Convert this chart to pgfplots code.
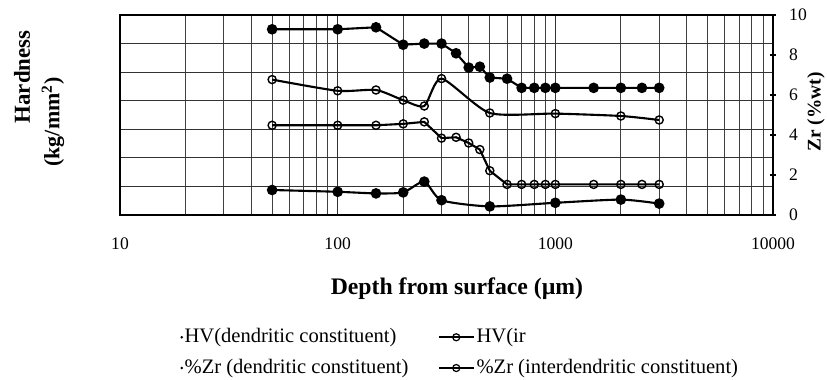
\documentclass[border=0pt]{standalone}
\usepackage{fontspec}
\setmainfont{Liberation Serif}
\usepackage{pgfplots}
\pgfplotsset{compat=1.18}
\begin{document}
\begin{tikzpicture}
% ---------- left axis: hardness ----------
\begin{axis}[
  at={(0,0)}, anchor=south west, scale only axis,
  width=13.06cm, height=4cm,
  xmode=log, xmin=10, xmax=10000,
  clip=false,
  /pgf/number format/assume math mode=true,
  tick label style={font=\fontsize{10}{12}\selectfont},
  ymin=0, ymax=700, ytick={0,100,...,700}, yticklabels={},
  xtick={10,100,1000,10000}, xticklabels={10,100,1000,10000},
  xticklabel style={yshift=-9.5pt},
  major tick length=0pt, minor tick length=0pt,
  xmajorgrids, xminorgrids, ymajorgrids,
  major grid style={black!80, line width=0.65pt},
  minor grid style={black!75, line width=0.55pt},
  axis line style={black, line width=0.8pt},
]
% HV (dendritic constituent)
\addplot[black, line width=1.2pt, mark=*, mark size=2.4pt] coordinates {
 (50,650) (100,650) (150,657) (200,596) (250,600) (300,600) (350,566)
 (400,516) (450,519) (500,481) (600,477) (700,445) (800,445) (900,445)
 (1000,445) (1500,445) (2000,445) (2500,445) (3000,445)};
% HV (interdendritic constituent)
\addplot[black, line width=1.2pt, mark=o, mark size=2.3pt, mark options={line width=0.8pt}] coordinates {
 (50,314) (100,314) (150,314) (200,319) (250,326) (300,269) (350,272)
 (400,252) (450,229) (500,155) (600,107) (700,107) (800,107) (900,107)
 (1000,107) (1500,107) (2000,107) (2500,107) (3000,107)};
\node[rotate=90, font=\bfseries\fontsize{13}{15}\selectfont] at (rel axis cs:-0.150,0.69) {Hardness};
\node[rotate=90, font=\bfseries\fontsize{12.5}{15}\selectfont] at (rel axis cs:-0.1026,0.465) {(kg/mm\textsuperscript{2})};
\node[font=\bfseries\fontsize{13.5}{16}\selectfont] at (rel axis cs:0.516,-0.37) {Depth from surface (µm)};
\end{axis}
% ---------- right axis: Zr ----------
\begin{axis}[
  at={(0,0)}, anchor=south west, scale only axis,
  width=13.06cm, height=4cm,
  xmode=log, xmin=10, xmax=10000,
  clip=false,
  /pgf/number format/assume math mode=true,
  tick label style={font=\fontsize{10}{12}\selectfont},
  axis x line=none, axis y line*=right,
  ymin=0, ymax=10, ytick={0,2,...,10},
  tick align=center, major tick length=0.12cm,
  ytick style={black, line width=0.6pt},
  yticklabel style={xshift=4pt},
  axis line style={black, line width=0.8pt},
  legend columns=2,
  legend cell align=left,
  legend style={at={(rel axis cs:0.092,-0.5525)}, anchor=north west,
    draw=none, fill=none, inner sep=0pt,
    font=\fontsize{11.7}{14}\selectfont,
    nodes={inner sep=1pt, text height=8.5pt, text depth=2.5pt},
    row sep=4.5pt,
    /tikz/every even column/.append style={column sep=0.55cm}},
]
\addlegendimage{legend image code/.code={\fill[black] (0,0) circle (0.5pt);}}
\addlegendentry{HV(dendritic constituent)}
\addlegendimage{legend image code/.code={\draw[black,line width=1.2pt] (0,0)--(0.7cm,0); \draw[black,line width=0.7pt] (0.35cm,0) circle (2pt);}}
\addlegendentry{HV(ir}
\addlegendimage{legend image code/.code={\fill[black] (0,0) circle (0.5pt);}}
\addlegendentry{\%Zr (dendritic constituent)}
\addlegendimage{legend image code/.code={\draw[black,line width=1.2pt] (0,0)--(0.7cm,0); \draw[black,line width=0.7pt] (0.35cm,0) circle (2pt);}}
\addlegendentry{\%Zr (interdendritic constituent)}
% %Zr (interdendritic constituent)
\addplot[forget plot, black, line width=1.2pt, smooth, tension=0.4, mark=o, mark size=2.3pt, mark options={line width=0.8pt}] coordinates {
 (50,6.77) (100,6.21) (150,6.25) (200,5.74) (250,5.45) (300,6.82)
 (500,5.10) (1000,5.07) (2000,4.95) (3000,4.75)};
% %Zr (dendritic constituent)
\addplot[forget plot, black, line width=1.2pt, smooth, tension=0.4, mark=*, mark size=2.4pt] coordinates {
 (50,1.25) (100,1.16) (150,1.08) (200,1.13) (250,1.67) (300,0.74)
 (500,0.43) (1000,0.61) (2000,0.77) (3000,0.57)};
\node[rotate=90, font=\bfseries\fontsize{11}{13}\selectfont] at (rel axis cs:1.066,0.515) {Zr (\%wt)};
\end{axis}
\pgfresetboundingbox
\useasboundingbox (-2.4cm,-3.3cm) rectangle (14.14cm,4.3cm);
\end{tikzpicture}
\end{document}
